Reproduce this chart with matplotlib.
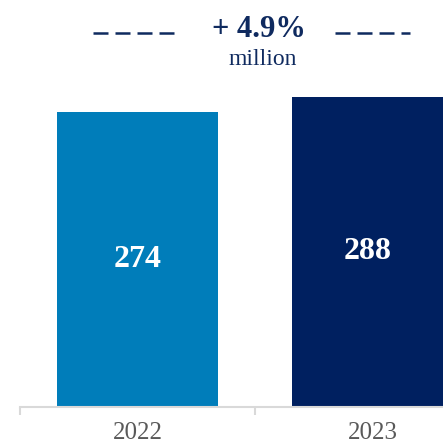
import matplotlib
matplotlib.use("Agg")
import matplotlib.pyplot as plt
from matplotlib.lines import Line2D

# data
years = ["2022", "2023"]
values = [274, 288]
bar_colors = ["#007DBA", "#002060"]
growth_label = "+ 4.9%"
unit_label = "million"

text_navy = "#0F2A5F"

plt.rcParams['font.family'] = ['Liberation Serif', 'DejaVu Serif']

fig = plt.figure(figsize=(4.43, 4.45), dpi=100)
ax = fig.add_axes([0, 38 / 445, 1, 407 / 445])

x = range(len(years))
bars = ax.bar(x, values, width=0.685, color=bar_colors)
ax.bar_label(bars, labels=[str(v) for v in values], label_type='center',
             color='white', fontsize=23, fontweight='bold')

ax.set_xlim(-0.585, 1.3)
ax.set_ylim(0, 378)
ax.set_yticks([])
for s in ['left', 'right', 'top']:
    ax.spines[s].set_visible(False)
ax.spines['bottom'].set_color('#D9D9D9')
ax.spines['bottom'].set_linewidth(1.5)
ax.spines['bottom'].set_bounds(-0.5, 1.3)

ax.set_xticks(list(x))
ax.set_xticklabels(years, fontsize=18, color='#595959')
ax.tick_params(axis='x', which='major', length=0, pad=11)
ax.set_xticks([-0.5, 0.5], minor=True)
ax.tick_params(axis='x', which='minor', length=6, width=1.5, color='#D9D9D9',
               direction='out')

# header
fig.text(259 / 443, 1 - 37 / 445, growth_label, ha='center', va='baseline',
         fontsize=22, fontweight='bold', color=text_navy)
fig.text(263 / 443, 1 - 65 / 445, unit_label, ha='center', va='baseline',
         fontsize=17, color=text_navy)

yd = 1 - 33 / 445
for x0, x1 in [(93, 175), (335, 410)]:
    fig.add_artist(Line2D([x0 / 443, x1 / 443], [yd, yd], transform=fig.transFigure,
                          color=text_navy, lw=1.8, linestyle=(0, (6.0, 2.8))))

fig.savefig("out.png", dpi=100)
